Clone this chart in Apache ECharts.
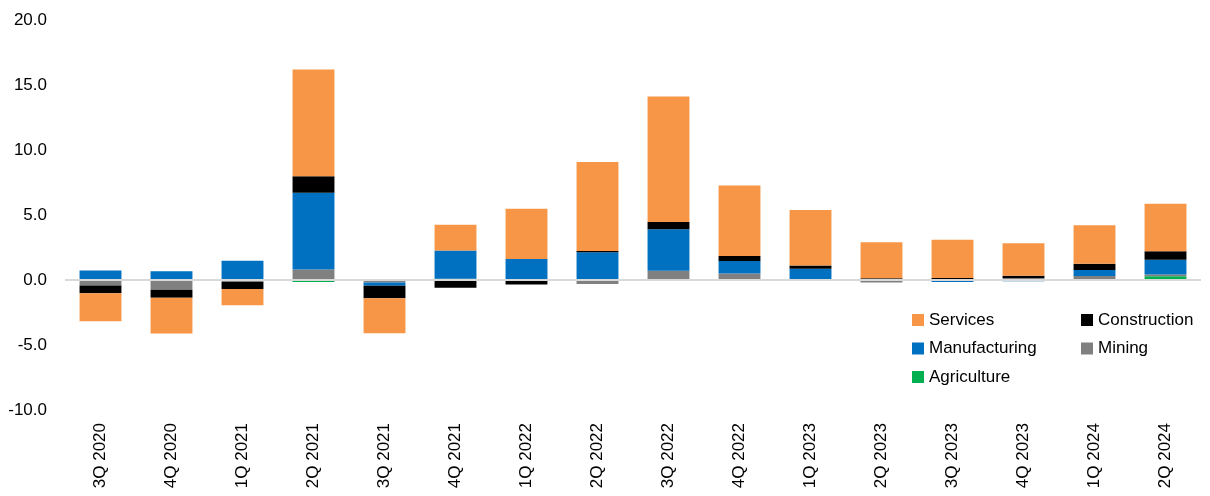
<!DOCTYPE html>
<html>
<head>
<meta charset="utf-8">
<script src="https://cdn.jsdelivr.net/npm/echarts@6/dist/echarts.min.js"></script>
<style>
html,body{margin:0;padding:0;background:#fff;}
#chart{width:1210px;height:496px;}
</style>
</head>
<body>
<div id="chart"></div>
<script>
const categories = ['3Q 2020','4Q 2020','1Q 2021','2Q 2021','3Q 2021','4Q 2021','1Q 2022','2Q 2022','3Q 2022','4Q 2022','1Q 2023','2Q 2023','3Q 2023','4Q 2023','1Q 2024','2Q 2024'];
const agriculture   = [0, 0, 0, -0.15, -0.05, 0.10, 0, 0, 0.08, 0, 0, 0, 0, 0, 0, 0.28];
const mining        = [-0.42, -0.75, -0.15, 0.80, -0.15, 0, 0, -0.30, 0.64, 0.50, 0.05, -0.20, 0.04, 0.15, 0.31, 0.15];
const manufacturing = [0.73, 0.67, 1.49, 5.91, -0.25, 2.16, 1.62, 2.14, 3.19, 0.97, 0.82, 0, -0.15, -0.10, 0.46, 1.12];
const construction  = [-0.59, -0.61, -0.54, 1.28, -0.96, -0.60, -0.35, 0.10, 0.56, 0.38, 0.25, 0.13, 0.12, 0.18, 0.48, 0.66];
const services      = [-2.17, -2.75, -1.25, 8.21, -2.69, 1.99, 3.87, 6.83, 9.64, 5.41, 4.26, 2.78, 2.94, 2.49, 2.96, 3.65];
const yTicks = [-10, -5, 0, 5, 10, 15, 20];

const FONT = '"Liberation Sans", Arial, sans-serif';
const chart = echarts.init(document.getElementById('chart'), null, {renderer: 'canvas'});

const mk = (name, data, color, extra) => Object.assign({
  name, type: 'bar', stack: 'total', data,
  barCategoryGap: '41%',
  itemStyle: {color},
  emphasis: {disabled: true},
  animation: false
}, extra || {});

chart.setOption({
  animation: false,
  textStyle: {fontFamily: FONT},
  grid: {left: 65, right: 9, top: 20, bottom: 86, containLabel: false},
  legend: [
    {
      orient: 'vertical', left: 907, top: 306,
      itemWidth: 12, itemHeight: 12, itemGap: 10.5,
      icon: 'rect',
      data: ['Services', 'Manufacturing', 'Agriculture'],
      textStyle: {fontFamily: FONT, fontSize: 17, color: '#000', lineHeight: 18}
    },
    {
      orient: 'vertical', left: 1076, top: 306,
      itemWidth: 12, itemHeight: 12, itemGap: 10.5,
      icon: 'rect',
      data: ['Construction', 'Mining'],
      textStyle: {fontFamily: FONT, fontSize: 17, color: '#000', lineHeight: 18}
    }
  ],
  xAxis: {
    type: 'category', data: categories,
    axisLine: {show: false},
    axisTick: {show: false},
    axisLabel: {rotate: 90, margin: 13, fontSize: 17, color: '#000', fontFamily: FONT}
  },
  yAxis: {
    type: 'value', min: -10, max: 20, interval: 5,
    splitLine: {show: false},
    axisLine: {show: false},
    axisTick: {show: false},
    axisLabel: {margin: 18, fontSize: 17, color: '#000', fontFamily: FONT,
      formatter: v => yTicks.includes(v) ? v.toFixed(1) : ''}
  },
  series: [
    mk('Agriculture', agriculture, '#00B050'),
    mk('Mining', mining, '#808080'),
    mk('Manufacturing', manufacturing, '#0070C0'),
    mk('Construction', construction, '#000000'),
    mk('Services', services, '#F79646', {
      markLine: {
        silent: true, symbol: ['none', 'none'], animation: false,
        label: {show: false},
        lineStyle: {color: '#d9d9d9', width: 2, type: 'solid'},
        data: [{yAxis: 0}]
      }
    })
  ]
});
</script>
</body>
</html>
